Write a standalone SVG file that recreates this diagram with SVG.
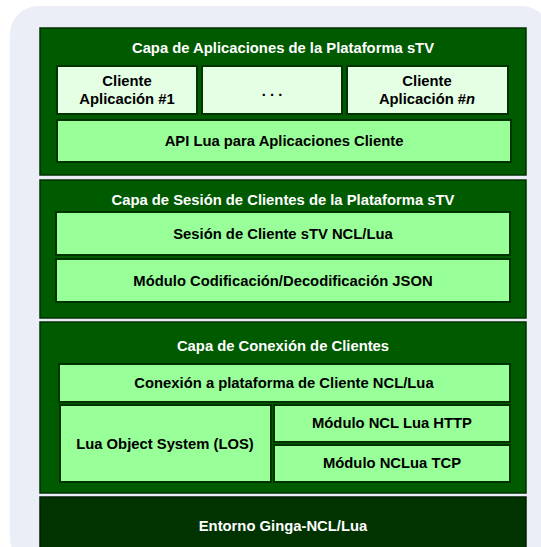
<svg xmlns="http://www.w3.org/2000/svg" width="541" height="547" viewBox="0 0 541 547">
<style>
text{font-family:"Liberation Sans",Arial,sans-serif;font-weight:bold;font-size:14.8px;text-anchor:middle}
.layer{fill:#005a00;stroke:#003300;stroke-width:1.5}
.base{fill:#003300;stroke:#002200;stroke-width:1.5}
.box{fill:#99ff99;stroke:#003300;stroke-width:2}
.pale{fill:#e5ffe5;stroke:#003300;stroke-width:2}
.wt{fill:#ffffff}
.bt{fill:#000000}
</style>
<rect x="10" y="6" width="540" height="560" rx="28" fill="#ebeef6"/>
<g id="capa-aplicaciones">
<rect class="layer" x="40" y="28" width="486" height="147"/>
<text class="wt" x="283" y="53">Capa de Aplicaciones de la Plataforma sTV</text>
</g>
<g id="cliente1">
<rect class="pale" x="57" y="66" width="140" height="48"/>
<text class="bt" x="127" y="86">Cliente</text>
<text class="bt" x="127" y="104">Aplicación #1</text>
</g>
<g id="cliente-dots">
<rect class="pale" x="202" y="66" width="140" height="48"/>
<text class="bt" x="272" y="96">. . .</text>
</g>
<g id="clienten">
<rect class="pale" x="347" y="66" width="161" height="48"/>
<text class="bt" x="427" y="86">Cliente</text>
<text class="bt" x="427" y="104">Aplicación #<tspan font-style="italic">n</tspan></text>
</g>
<g id="api-lua">
<rect class="box" x="57" y="120" width="454" height="42"/>
<text class="bt" x="284" y="146">API Lua para Aplicaciones Cliente</text>
</g>
<g id="capa-sesion">
<rect class="layer" x="40" y="180" width="486" height="138"/>
<text class="wt" x="283" y="205">Capa de Sesión de Clientes de la Plataforma sTV</text>
</g>
<g id="sesion-cliente">
<rect class="box" x="56" y="212" width="454" height="43"/>
<text class="bt" x="283" y="239">Sesión de Cliente sTV NCL/Lua</text>
</g>
<g id="json">
<rect class="box" x="56" y="259" width="454" height="43"/>
<text class="bt" x="283" y="286">Módulo Codificación/Decodificación JSON</text>
</g>
<g id="capa-conexion">
<rect class="layer" x="40" y="322" width="486" height="171"/>
<text class="wt" x="283" y="351">Capa de Conexión de Clientes</text>
</g>
<g id="conexion-plataforma">
<rect class="box" x="59" y="364" width="451" height="38"/>
<text class="bt" x="284" y="388">Conexión a plataforma de Cliente NCL/Lua</text>
</g>
<g id="los">
<rect class="box" x="60" y="405" width="211" height="77"/>
<text class="bt" x="165" y="449">Lua Object System (LOS)</text>
</g>
<g id="http">
<rect class="box" x="274" y="405" width="236" height="37"/>
<text class="bt" x="392" y="428">Módulo NCL Lua HTTP</text>
</g>
<g id="tcp">
<rect class="box" x="274" y="445" width="236" height="37"/>
<text class="bt" x="392" y="468">Módulo NCLua TCP</text>
</g>
<g id="entorno">
<rect class="base" x="40" y="497" width="486" height="60"/>
<text class="wt" x="283" y="531">Entorno Ginga-NCL/Lua</text>
</g>
<g id="connectors"/>
</svg>
